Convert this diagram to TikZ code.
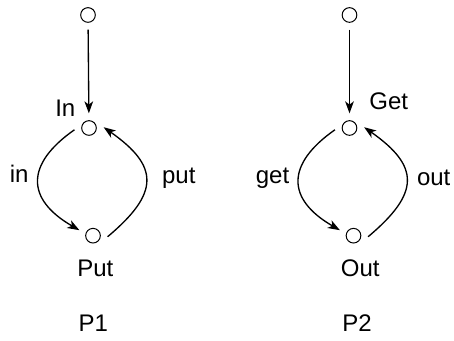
\documentclass[tikz,border=0pt]{standalone}
\usepackage{fontspec}
\setmainfont{Liberation Sans}
\usetikzlibrary{arrows.meta}
\begin{document}
\begin{tikzpicture}[x=0.75pt,y=0.75pt,
  place/.style={circle,draw,line width=0.75pt,minimum size=11pt,inner sep=0pt,outer sep=5.5pt},
  lbl/.style={font=\fontsize{18}{20}\selectfont,inner sep=0pt,anchor=base},
  arc/.style={line width=1pt,-{Stealth[length=9pt,width=6.5pt,inset=2.5pt]}}]
\useasboundingbox (0,0) rectangle (454,341);

% net P1
\node[place] (s1) at (88,326) {};
\node[place] (in) at (89,213) {};
\node[place] (put) at (93,105.3) {};
\node[lbl] (lIn) at (65.3,224) {In};
\node[lbl] (lin) at (19.2,158.3) {in};
\node[lbl] (lput) at (178.8,157) {put};
\node[lbl] (lPut) at (95.3,64.3) {Put};
\node[lbl] (lP1) at (93.3,9.3) {P1};
\draw[arc] (s1) -- (in);
\draw[arc] (in.187) .. controls +(215:60) and +(150:62) .. (put.158);
\draw[arc] (put.356) .. controls +(40:68) and +(325:68) .. (in.3);

% net P2
\node[place] (s2) at (349.5,326) {};
\node[place] (get) at (349.5,213) {};
\node[place] (out) at (353.5,105.3) {};
\node[lbl] (lGet) at (388.7,231) {Get};
\node[lbl] (lget) at (272.5,157) {get};
\node[lbl] (lout) at (433.7,155.3) {out};
\node[lbl] (lOut) at (360.3,64.3) {Out};
\node[lbl] (lP2) at (357,9) {P2};
\draw[arc] (s2) -- (get);
\draw[arc] (get.187) .. controls +(215:60) and +(150:62) .. (out.158);
\draw[arc] (out.356) .. controls +(40:68) and +(325:68) .. (get.3);
\end{tikzpicture}
\end{document}
